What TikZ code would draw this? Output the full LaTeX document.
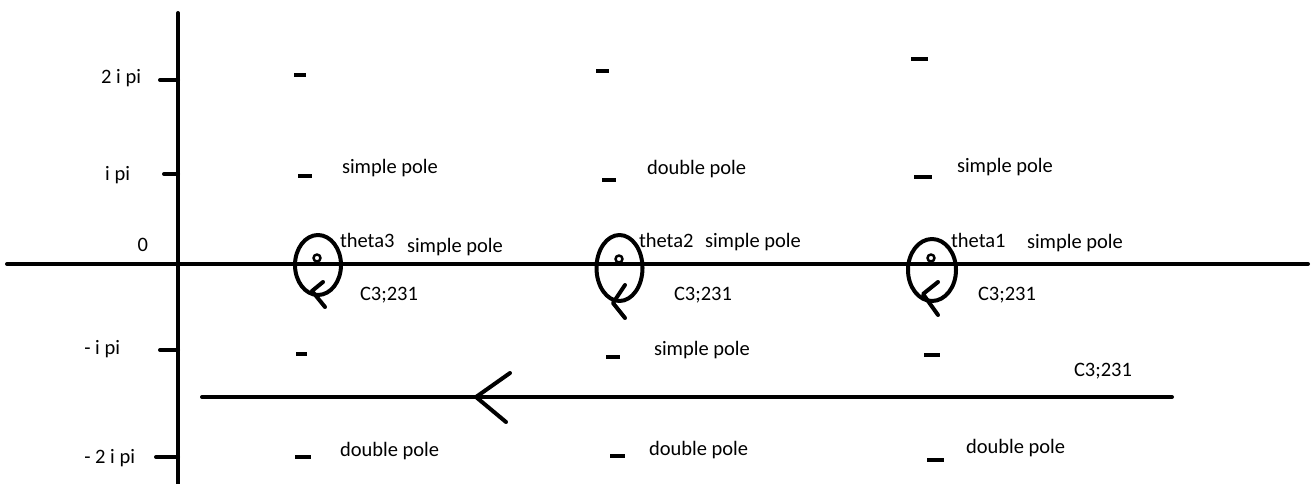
\documentclass[tikz,border=0pt]{standalone}
\usepackage{fontspec}
\setmainfont{Carlito}

\tikzset{
  lbl/.style={anchor=base west, inner sep=0pt, font=\fontsize{20.5}{23}\selectfont},
  axlbl/.style={lbl, anchor=base east},
  pole/.style={fill=black, inner sep=0pt, minimum height=4pt, minimum width=#1},
  pole/.default=14pt,
}

\begin{document}
\begin{tikzpicture}[x=1pt, y=-1pt, line width=4pt, line cap=round, line join=round]
    \useasboundingbox (0,0) rectangle (1311,484);

    % axes
    \coordinate (xl) at (7,264);
    \coordinate (xr) at (1308,264);
    \coordinate (yt) at (178,13);
    \coordinate (yb) at (178,490);
    \draw (xl) -- (xr);
    \draw (yt) -- (yb);

    % ticks and their labels
    \draw
    (160,80) -- (178,80)
    (164,174) -- (178,174)
    (160,350) -- (178,350)
    (156,457) -- (178,457);
    \node[axlbl] (t2) at (143,84) {2 i pi};
    \node[axlbl] (t1) at (132,180) {i pi};
    \node[axlbl] (t0) at (150,251) {0};
    \node[axlbl] (tm1) at (122,354) {- i pi};
    \node[axlbl] (tm2) at (137,463) {- 2 i pi};

    % poles, column 3
    \node[pole=12pt] (p31) at (300,75) {};
    \node[pole] (p32) at (305,176) {};
    \node[pole=11pt] (p33) at (301.5,354) {};
    \node[pole=16pt] (p34) at (303,457) {};
    % column 2
    \node[pole=13pt] (p21) at (602.5,71) {};
    \node[pole] (p22) at (609,180) {};
    \node[pole] (p23) at (613,357) {};
    \node[pole=15pt] (p24) at (617.5,456) {};
    % column 1
    \node[pole=17pt] (p11) at (919.5,59) {};
    \node[pole=18pt] (p12) at (923,177) {};
    \node[pole=16pt] (p13) at (932,355) {};
    \node[pole=17pt] (p14) at (935.5,460) {};

    % pole labels
    \node[lbl] (s32) at (340,173) {simple pole};
    \node[lbl] (s22) at (645,174) {double pole};
    \node[lbl] (s12) at (955,172) {simple pole};
    \node[lbl] (s30) at (405,252) {simple pole};
    \node[lbl] (s20) at (703,247) {simple pole};
    \node[lbl] (s10) at (1025,248) {simple pole};
    \node[lbl] (s23) at (652,355) {simple pole};
    \node[lbl] (s34) at (338,456) {double pole};
    \node[lbl] (s24) at (647,455) {double pole};
    \node[lbl] (s14) at (964,453) {double pole};

    % small contours round theta
    \coordinate (c3) at (318,265);
    \coordinate (c2) at (619.5,268);
    \coordinate (c1) at (932,270);
    \draw (c3) ellipse [x radius=23pt, y radius=30pt];
    \draw (c2) ellipse [x radius=23pt, y radius=33pt];
    \draw (c1) ellipse [x radius=24pt, y radius=31pt];
    \draw[line width=2.5pt]
    (317,258) circle [radius=3.5pt]
    (619,259) circle [radius=3.5pt]
    (931,258) circle [radius=3.5pt];
    \draw
    (323,282) -- (312,291) -- (325,307)
    (625,285) -- (613,303) -- (625,318)
    (938,282) -- (923,294) -- (938,315);

    \node[lbl] (th3) at (338,247) {theta3};
    \node[lbl] (th2) at (637,247) {theta2};
    \node[lbl] (th1) at (949,247) {theta1};
    \node[lbl] (k3) at (358,300) {C3;231};
    \node[lbl] (k2) at (672,300) {C3;231};
    \node[lbl] (k1) at (976,300) {C3;231};

    % big contour
    \coordinate (bs) at (1172,397);
    \coordinate (be) at (202,397);
    \draw (bs) -- (be);
    \draw (510,373) -- (476,397) -- (506,422);
    \node[lbl] (kb) at (1072,376) {C3;231};

\end{tikzpicture}
\end{document}
